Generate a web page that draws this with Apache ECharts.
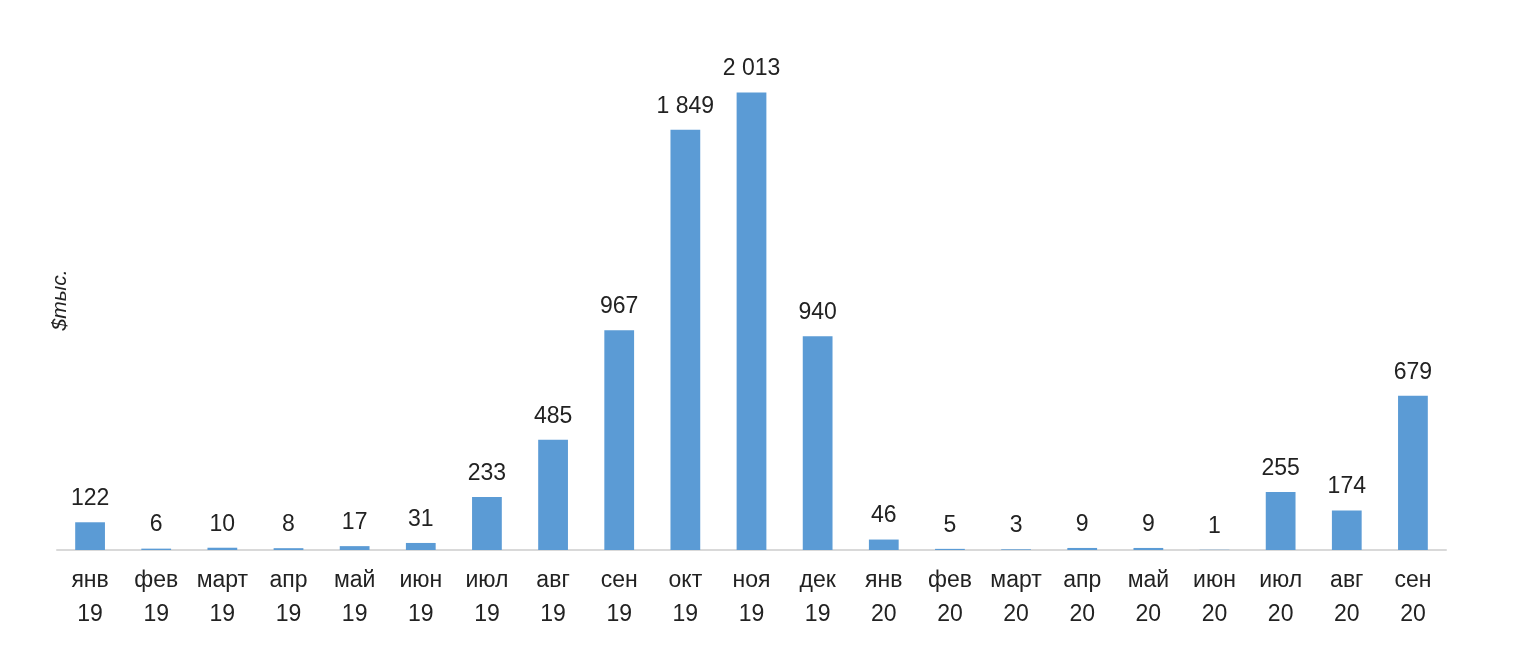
<!DOCTYPE html>
<html>
<head>
<meta charset="utf-8">
<script src="https://cdn.jsdelivr.net/npm/echarts@6/dist/echarts.min.js"></script>
<style>html,body{margin:0;background:#fff}#main{width:1515px;height:666px}</style>
</head>
<body>
<div id="main"></div>
<script>
var months = ['янв', 'фев', 'март', 'апр', 'май', 'июн', 'июл', 'авг', 'сен', 'окт', 'ноя', 'дек',
    'янв', 'фев', 'март', 'апр', 'май', 'июн', 'июл', 'авг', 'сен'];
var years = ['19', '19', '19', '19', '19', '19', '19', '19', '19', '19', '19', '19',
    '20', '20', '20', '20', '20', '20', '20', '20', '20'];
var values = [122, 6, 10, 8, 17, 31, 233, 485, 967, 1849, 2013, 940, 46, 5, 3, 9, 9, 1, 255, 174, 679];

var categories = months.map(function (m, i) { return m + '\n' + years[i]; });

var chart = echarts.init(document.getElementById('main'));
chart.setOption({
    animation: false,
    grid: { left: 57, right: 69, top: 50, bottom: 116 },
    xAxis: {
        type: 'category',
        data: categories,
        axisLine: { lineStyle: { color: '#d9d9d9', width: 2 } },
        axisTick: { show: false },
        axisLabel: {
            interval: 0, color: '#222', fontSize: 23, lineHeight: 34, margin: 14,
            fontFamily: 'Liberation Sans, Arial'
        }
    },
    yAxis: {
        type: 'value',
        min: 0,
        max: 2200,
        name: '$тыс.',
        nameLocation: 'middle',
        nameRotate: 90,
        nameGap: -14,
        nameTextStyle: { fontSize: 21, fontStyle: 'italic', color: '#222', fontFamily: 'Liberation Sans, Arial' },
        axisLine: { show: false },
        axisTick: { show: false },
        axisLabel: { show: false },
        splitLine: { show: false }
    },
    series: [{
        type: 'bar',
        data: values,
        barWidth: '45%',
        itemStyle: { color: '#5b9bd5' },
        label: {
            show: true, position: 'top', distance: 12, color: '#222', fontSize: 23,
            fontFamily: 'Liberation Sans, Arial',
            formatter: function (p) { return p.value >= 1000 ? String(p.value).replace(/(\d)(\d{3})$/, '$1 $2') : p.value; }
        }
    }]
});
</script>
</body>
</html>
